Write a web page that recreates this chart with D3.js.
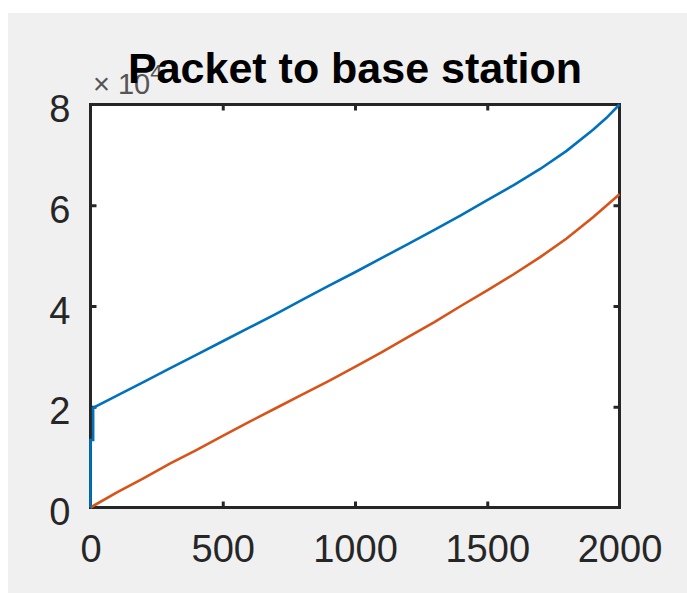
<!DOCTYPE html>
<html>
<head>
<meta charset="utf-8">
<script src="https://cdn.jsdelivr.net/npm/d3@7"></script>
<style>
  body { margin: 0; background: #fff; }
  svg { display: block; }
</style>
</head>
<body>
<div id="chart"></div>
<script>
// values (y in units of 10^4)
var blueX = [0, 0, 10, 10, 100, 200, 300, 400, 500, 600, 700, 800, 900, 1000, 1100, 1200, 1300, 1400, 1500, 1600, 1700, 1800, 1900, 1950, 2000];
var blueY = [0, 1.34, 1.34, 1.98, 2.22, 2.49, 2.76, 3.03, 3.30, 3.57, 3.84, 4.12, 4.40, 4.67, 4.95, 5.23, 5.51, 5.80, 6.10, 6.40, 6.72, 7.08, 7.50, 7.73, 8.0];
var orangeX = [0, 100, 200, 300, 400, 500, 600, 700, 800, 900, 1000, 1100, 1200, 1300, 1400, 1500, 1600, 1700, 1800, 1900, 2000];
var orangeY = [0, 0.30, 0.58, 0.87, 1.14, 1.42, 1.70, 1.97, 2.24, 2.51, 2.79, 3.08, 3.38, 3.68, 4.00, 4.31, 4.63, 4.97, 5.34, 5.76, 6.22];
var xTicks = [0, 500, 1000, 1500, 2000];
var yTicks = [0, 2, 4, 6, 8];

var W = 687, H = 593;
var box = {left: 90.5, right: 619.5, top: 104.5, bottom: 507.5};
var axisColor = "#262626";

var svg = d3.select("#chart").append("svg")
    .attr("width", W)
    .attr("height", H);

// gray figure background
svg.append("rect")
    .attr("x", 8).attr("y", 13)
    .attr("width", W - 8).attr("height", H - 13)
    .attr("fill", "#f0f0f0");

var x = d3.scaleLinear().domain([0, 2000]).range([box.left, box.right]);
var y = d3.scaleLinear().domain([0, 8]).range([box.bottom, box.top]);

// white plot area with frame
svg.append("rect")
    .attr("x", box.left).attr("y", box.top)
    .attr("width", box.right - box.left).attr("height", box.bottom - box.top)
    .attr("fill", "#fff")
    .attr("stroke", axisColor)
    .attr("stroke-width", 3);

// axes with inward ticks, no domain line (frame is the rect above)
var tickLen = 6;
var fmt = d3.format("d");
var xb = svg.append("g").attr("transform", "translate(0," + box.bottom + ")")
    .call(d3.axisBottom(x).tickValues(xTicks).tickSize(-tickLen).tickPadding(tickLen + 22).tickFormat(fmt));
var xt = svg.append("g").attr("transform", "translate(0," + box.top + ")")
    .call(d3.axisTop(x).tickValues(xTicks).tickSize(-tickLen).tickFormat(""));
var yl = svg.append("g").attr("transform", "translate(" + box.left + ",0)")
    .call(d3.axisLeft(y).tickValues(yTicks).tickSize(-tickLen).tickPadding(tickLen + 14).tickFormat(fmt));
var yr = svg.append("g").attr("transform", "translate(" + box.right + ",0)")
    .call(d3.axisRight(y).tickValues(yTicks).tickSize(-tickLen).tickFormat(""));

[xb, xt, yl, yr].forEach(function(g){
    g.select(".domain").remove();
    g.selectAll(".tick line").attr("stroke", axisColor).attr("stroke-width", 3);
    g.selectAll(".tick text")
        .attr("fill", axisColor)
        .style("font-family", "'Liberation Sans', Arial, sans-serif")
        .style("font-size", "38px");
});
// end ticks sit on the frame, hide them
[xb, xt].forEach(function(g){
    g.selectAll(".tick line").filter((d) => d === 0 || d === 2000).remove();
});
[yl, yr].forEach(function(g){
    g.selectAll(".tick line").filter((d) => d === 0 || d === 8).remove();
});
yl.selectAll(".tick text").attr("dy", "0.45em");

// data lines, drawn over the frame like the original
var line = d3.line()
    .x((d) => x(d[0]))
    .y((d) => y(d[1]));

function pairs(xs, ys){
    return xs.map(function(v, i){ return [v, ys[i]]; });
}

svg.append("path")
    .datum(pairs(orangeX, orangeY))
    .attr("d", line)
    .attr("fill", "none")
    .attr("stroke", "#D95319")
    .attr("stroke-width", 2.6);

svg.append("path")
    .datum(pairs(blueX, blueY))
    .attr("d", line)
    .attr("fill", "none")
    .attr("stroke", "#0072BD")
    .attr("stroke-width", 2.6);

// exponent label, drawn before the title so the title covers it (as in the original)
var expo = svg.append("text")
    .attr("x", 93).attr("y", 94)
    .attr("fill", "#555")
    .style("font-family", "'Liberation Sans', Arial, sans-serif")
    .style("font-size", "29px");
expo.append("tspan").text("\u00d7 10");
expo.append("tspan").attr("dy", -14).style("font-size", "22px").text("4");

// title
svg.append("text")
    .attr("x", (box.left + box.right) / 2)
    .attr("y", 83)
    .attr("text-anchor", "middle")
    .attr("fill", "#000")
    .style("font-family", "'Liberation Sans', Arial, sans-serif")
    .style("font-weight", "bold")
    .style("font-size", "43px")
    .text("Packet to base station");
</script>
</body>
</html>
